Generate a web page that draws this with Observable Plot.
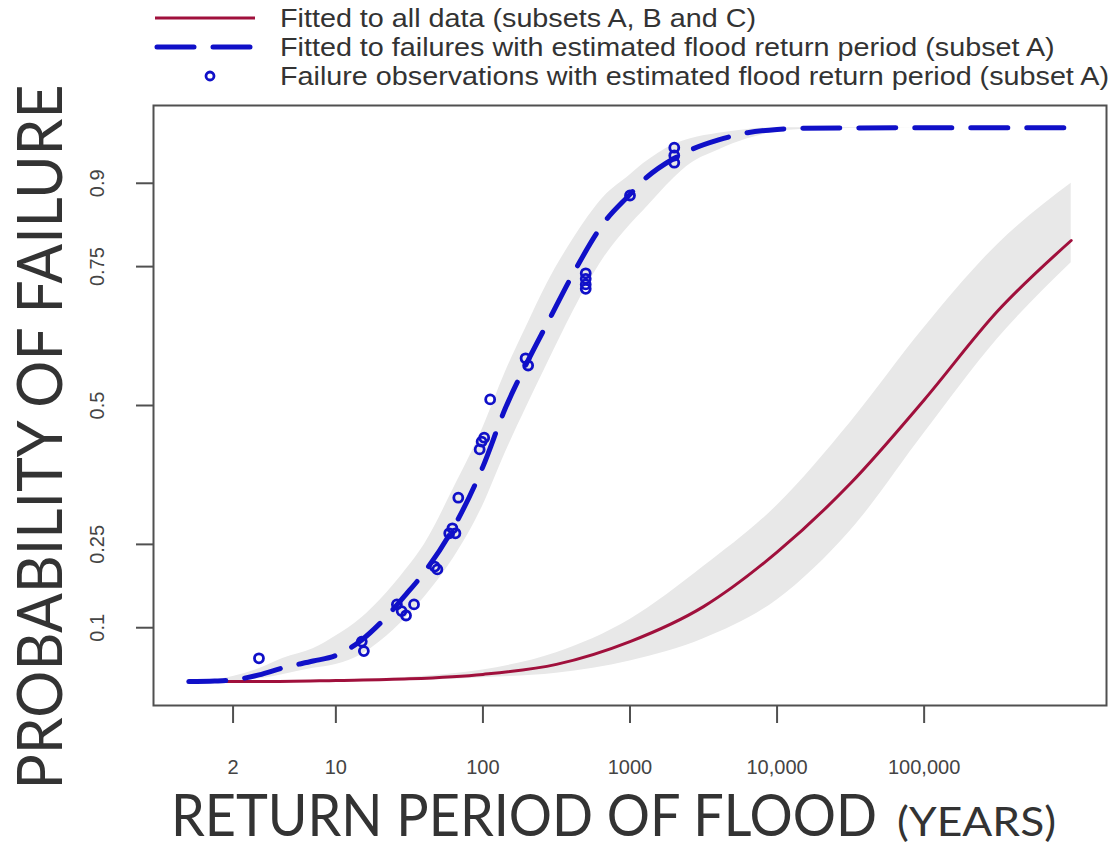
<!DOCTYPE html>
<html>
<head>
<meta charset="utf-8">
<script src="https://cdn.jsdelivr.net/npm/d3@7"></script>
<script src="https://cdn.jsdelivr.net/npm/@observablehq/plot@0.6"></script>
<style>
  html, body { margin: 0; padding: 0; background: #fff; }
  #chart svg { display: block; }
</style>
</head>
<body>
<div id="chart"></div>
<script>
// Axis ticks
const xTicks = [2, 10, 100, 1000, 10000, 100000];
const xTickLabels = ["2", "10", "100", "1000", "10,000", "100,000"];
const yTicks = [0.1, 0.25, 0.5, 0.75, 0.9];
const yTickLabels = ["0.1", "0.25", "0.5", "0.75", "0.9"];

// Fitted curve, subset A (return period in years, probability, band low/high)
const fitAT  = [1, 1.5, 2, 3, 4.4, 7, 10, 15, 20, 30, 40, 63, 100, 142, 200, 274, 412, 661, 1000, 1230, 2000, 2580, 4000, 6300, 10000, 14400, 100000, 1000000];
const fitAP  = [0.003, 0.004, 0.006, 0.015, 0.028, 0.04, 0.05, 0.078, 0.108, 0.16, 0.2, 0.28, 0.39, 0.495, 0.578, 0.648, 0.738, 0.828, 0.88, 0.905, 0.945, 0.96, 0.978, 0.991, 0.997, 0.999, 1.0, 1.0];
const fitALo = [0.003, 0.003, 0.004, 0.008, 0.016, 0.027, 0.034, 0.052, 0.075, 0.118, 0.155, 0.225, 0.32, 0.415, 0.50, 0.575, 0.67, 0.765, 0.825, 0.85, 0.91, 0.935, 0.96, 0.98, 0.993, 0.997, 1.0, 1.0];
const fitAHi = [0.003, 0.006, 0.012, 0.026, 0.045, 0.062, 0.085, 0.118, 0.15, 0.205, 0.25, 0.35, 0.46, 0.56, 0.645, 0.72, 0.80, 0.875, 0.915, 0.935, 0.97, 0.98, 0.99, 0.997, 1.0, 1.0, 1.0, 1.0];

// Fitted curve, all data (subsets A, B and C)
const fitAllT  = [1, 3.16, 10, 31.6, 100, 316, 1000, 3162, 10000, 31623, 100000, 316228, 1000000];
const fitAllP  = [0.003, 0.003, 0.005, 0.008, 0.016, 0.034, 0.075, 0.138, 0.236, 0.36, 0.51, 0.67, 0.797];
const fitAllLo = [0.003, 0.003, 0.004, 0.005, 0.01, 0.018, 0.04, 0.08, 0.15, 0.275, 0.45, 0.62, 0.757];
const fitAllHi = [0.003, 0.004, 0.006, 0.011, 0.024, 0.055, 0.115, 0.21, 0.32, 0.47, 0.64, 0.79, 0.90];

// Failure observations with estimated flood return period (subset A)
const obsT = [3, 15, 15.5, 26, 28, 30, 34, 47, 49, 59, 62, 65, 68, 95, 98, 102, 112, 195, 203, 500, 500, 500, 500, 1000, 2000, 2000, 2000];
const obsP = [0.045, 0.075, 0.058, 0.142, 0.13, 0.122, 0.142, 0.21, 0.205, 0.27, 0.279, 0.27, 0.334, 0.421, 0.435, 0.442, 0.511, 0.585, 0.572, 0.738, 0.728, 0.718, 0.71, 0.878, 0.964, 0.95, 0.937];

const legendLabels = [
  "Fitted to all data (subsets A, B and C)",
  "Fitted to failures with estimated flood return period (subset A)",
  "Failure observations with estimated flood return period (subset A)"
];
const yTitle = "PROBABILITY OF FAILURE";
const xTitle = "RETURN PERIOD OF FLOOD";
const xTitleUnit = "(YEARS)";

const red = "#a0103c";
const blue = "#1010c8";
const band = "#e8e8e8";
const axisGray = "#505050";
const labelGray = "#444";

const curveA = fitAT.map((T, i) => ({T, p: fitAP[i], lo: fitALo[i], hi: fitAHi[i]}));
const curveAll = fitAllT.map((T, i) => ({T, p: fitAllP[i], lo: fitAllLo[i], hi: fitAllHi[i]}));
const obs = obsT.map((T, i) => ({T, p: obsP[i]}));

const chart = Plot.plot({
  width: 1112,
  height: 847,
  marginLeft: 153,
  marginRight: 6,
  marginTop: 105,
  marginBottom: 142,
  style: {fontFamily: "'Liberation Sans', Arial, sans-serif", background: "#fff", overflow: "visible"},
  x: {type: "log", domain: [10 ** -0.24, 10 ** 6.24]},
  y: {domain: [-0.04, 1.04]},
  marks: [
    Plot.areaY(curveAll, {x: "T", y1: "lo", y2: "hi", fill: band, curve: "monotone-x"}),
    Plot.areaY(curveA, {x: "T", y1: "lo", y2: "hi", fill: band, curve: "monotone-x"}),
    Plot.line(curveAll, {x: "T", y: "p", stroke: red, strokeWidth: 3, curve: "monotone-x"}),
    Plot.line(curveA, {x: "T", y: "p", stroke: blue, strokeWidth: 5, strokeDasharray: "37,19", strokeLinecap: "round", curve: "monotone-x"}),
    Plot.dot(obs, {x: "T", y: "p", r: 4.5, stroke: blue, strokeWidth: 2.8, fill: "none"}),
    Plot.frame({stroke: axisGray, strokeWidth: 2}),
    Plot.axisX({
      ticks: xTicks, tickFormat: () => "", tickSize: 18,
      stroke: axisGray, strokeWidth: 2, label: null
    }),
    Plot.text(xTicks, {
      x: d => d, text: (d, i) => xTickLabels[i], frameAnchor: "bottom", dy: 62,
      textAnchor: "middle", lineAnchor: "middle", fontSize: 20, fill: labelGray
    }),
    Plot.axisY({
      ticks: yTicks, tickFormat: () => "", tickSize: 17,
      stroke: axisGray, strokeWidth: 2, label: null
    }),
    Plot.text(yTicks, {
      y: d => d, text: (d, i) => yTickLabels[i], frameAnchor: "left", dx: -56,
      rotate: -90, textAnchor: "middle", lineAnchor: "middle", fontSize: 20, fill: labelGray
    })
  ]
});

document.getElementById("chart").appendChild(chart);

const svg = d3.select(chart);

// Axis titles
const titleFont = "Lato, 'Open Sans', sans-serif";
svg.append("text")
  .attr("transform", "translate(62,437) rotate(-90)")
  .attr("text-anchor", "middle")
  .attr("font-family", titleFont).attr("font-size", 62).attr("fill", "#333")
  .attr("textLength", 705).attr("lengthAdjust", "spacingAndGlyphs")
  .text(yTitle);
const xTitleText = svg.append("text")
  .attr("x", 171).attr("y", 836).attr("text-anchor", "start")
  .attr("font-family", titleFont).attr("fill", "#333");
xTitleText.append("tspan")
  .attr("font-size", 59)
  .attr("textLength", 706).attr("lengthAdjust", "spacingAndGlyphs")
  .text(xTitle);
xTitleText.append("tspan")
  .attr("x", 897).attr("font-size", 41)
  .attr("textLength", 159).attr("lengthAdjust", "spacingAndGlyphs")
  .text(xTitleUnit);

// Legend
const legend = svg.append("g")
  .attr("font-family", "'Liberation Sans', Arial, sans-serif")
  .attr("font-size", 26).attr("fill", "#333").attr("text-anchor", "start");
const rowY = [18, 47, 76];
legend.append("line").attr("x1", 155).attr("x2", 255).attr("y1", rowY[0]).attr("y2", rowY[0])
  .attr("stroke", red).attr("stroke-width", 3);
legend.append("line").attr("x1", 157).attr("x2", 253).attr("y1", rowY[1]).attr("y2", rowY[1])
  .attr("stroke", blue).attr("stroke-width", 5).attr("stroke-dasharray", "37,19").attr("stroke-linecap", "round");
legend.append("circle").attr("cx", 210).attr("cy", rowY[2]).attr("r", 4).attr("fill", "none")
  .attr("stroke", blue).attr("stroke-width", 2.8);
const texts = legendLabels.map((t, i) => legend.append("text")
  .attr("x", 280).attr("y", rowY[i] + 9).attr("text-anchor", "start").text(t));
const natural = texts[2].node().getComputedTextLength();
const k = 829 / natural;
texts.forEach(s => {
  const w = s.node().getComputedTextLength();
  s.attr("textLength", w * k).attr("lengthAdjust", "spacingAndGlyphs");
});
</script>
</body>
</html>
